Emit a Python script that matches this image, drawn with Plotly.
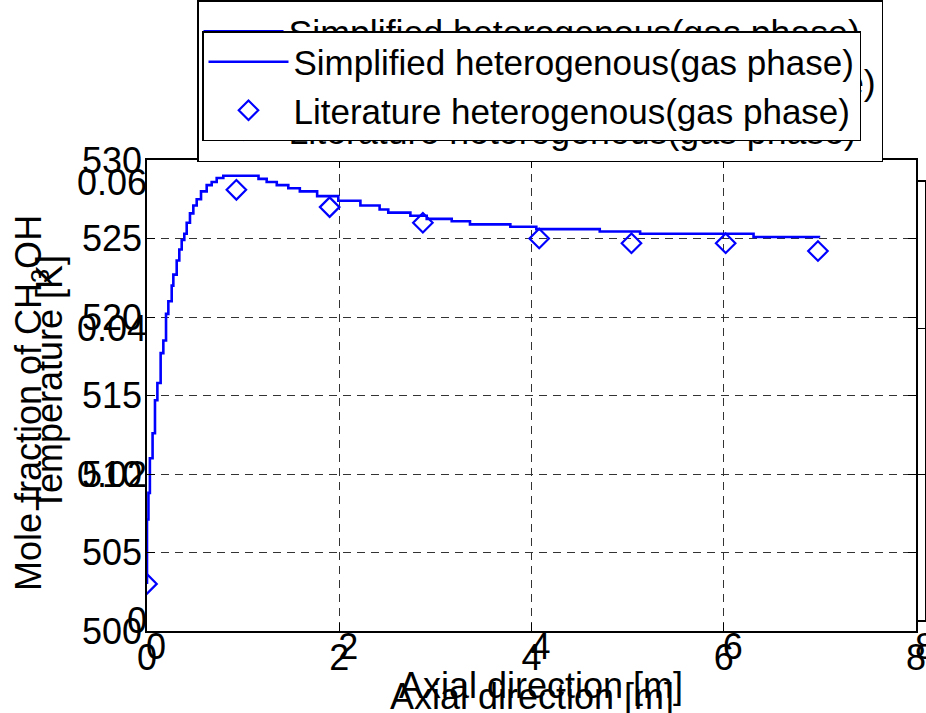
import plotly.graph_objects as go

# ---------------- data ----------------
axial_sim = [0, 0, 0.015, 0.03, 0.058, 0.083, 0.108, 0.142, 0.17, 0.198,
             0.222, 0.257, 0.274, 0.309, 0.336, 0.361, 0.388, 0.413, 0.447, 0.482,
             0.517, 0.562, 0.621, 0.673, 0.725, 0.794, 1.16, 1.245, 1.35, 1.47,
             1.59, 1.77, 1.99, 2.22, 2.42, 2.51, 2.74, 2.91, 3.17, 3.36,
             3.78, 4.05, 4.71, 5.13, 6.31, 6.99]
temp_sim = [503.0, 507.1, 508.8, 511.0, 512.6, 514.7, 515.8, 517.7, 518.5, 520.2,
            521.0, 522.0, 522.7, 523.6, 524.3, 524.9, 525.3, 526.0, 526.6, 527.1,
            527.5, 528.0, 528.4, 528.6, 528.85, 529.0, 528.8, 528.6, 528.4, 528.2,
            528.0, 527.7, 527.4, 527.1, 526.85, 526.65, 526.45, 526.25, 526.1, 525.9,
            525.75, 525.6, 525.45, 525.3, 525.1, 525.05]

axial_lit = [0, 0.93, 1.90, 2.87, 4.08, 5.04, 6.02, 6.98]
temp_lit = [503.0, 528.1, 527.0, 526.0, 525.0, 524.7, 524.7, 524.2]

x_ticks = [0, 2, 4, 6, 8]
temp_ticks = [500, 505, 510, 515, 520, 525, 530]
mole_ticks = [0, 0.02, 0.04, 0.06]
mole_tick_text = ["0", "0.02", "0.04", "0.06"]

front_names = ["Simplified heterogenous(gas phase)",
               "Literature heterogenous(gas phase)"]
back_names = ["Simplified heterogenous(gas phase)",
              "Simplified heterogenous(solid phase)",
              "Literature heterogenous(gas phase)"]

x_title = "Axial direction [m]"
temp_title = "Temperature [K]"
mole_title = "Mole fraction of CH<sub>3</sub>OH"

# ---------------- figure ----------------
W, H = 926, 713
FONT = "Liberation Sans, Arial, Helvetica, sans-serif"
BLUE = "#0000FF"


def px(v):
    return v / W


def py(v):
    return (H - v) / H


fig = go.Figure()

diamond = dict(symbol="diamond-open", size=15, color=BLUE, line=dict(width=2.2, color=BLUE))

# background axes (mole fraction) - only its legend entries, data hidden under front axes
fig.add_trace(go.Scatter(x=[None], y=[None], mode="lines", name=back_names[0],
                         line=dict(color=BLUE, width=2.5), xaxis="x", yaxis="y",
                         legend="legend"))
fig.add_trace(go.Scatter(x=[None], y=[None], mode="lines", name=back_names[1],
                         line=dict(color=BLUE, width=2.5, dash="dash"), xaxis="x", yaxis="y",
                         legend="legend"))
fig.add_trace(go.Scatter(x=[None], y=[None], mode="markers", name=back_names[2],
                         marker=diamond, xaxis="x", yaxis="y", legend="legend"))

# front axes (temperature)
fig.add_trace(go.Scatter(x=axial_sim, y=temp_sim, mode="lines", name=front_names[0],
                         line=dict(color=BLUE, width=2.6, shape="hv"),
                         xaxis="x2", yaxis="y2", legend="legend2"))
fig.add_trace(go.Scatter(x=axial_lit, y=temp_lit, mode="markers", name=front_names[1],
                         marker=diamond, xaxis="x2", yaxis="y2", legend="legend2"))

axis_common = dict(ticks="inside", ticklen=8, tickwidth=1.2, tickcolor="black",
                   showline=True, linecolor="black", linewidth=1.5, mirror="ticks",
                   zeroline=False, automargin=False, ticklabeloverflow="allow",
                   tickfont=dict(family=FONT, size=36, color="black"))

fig.update_layout(
    width=W, height=H, autosize=False,
    margin=dict(l=0, r=0, t=0, b=0, pad=0, autoexpand=False),
    paper_bgcolor="white", plot_bgcolor="white",
    font=dict(family=FONT, size=35, color="black"),
    xaxis=dict(domain=[px(156), px(925)], anchor="y", range=[0, 8], tickvals=x_ticks,
               showgrid=False, ticklabelstandoff=-6, **axis_common),
    yaxis=dict(domain=[py(620), py(182)], anchor="x", range=[0, 0.06], tickvals=mole_ticks,
               ticktext=mole_tick_text, showgrid=False, **axis_common),
    xaxis2=dict(domain=[px(147), px(916)], anchor="y2", range=[0, 8], tickvals=x_ticks,
                showgrid=True, gridcolor="#333333", gridwidth=1, griddash="8px,6px",
                ticklabelstandoff=-6, **axis_common),
    yaxis2=dict(domain=[py(631), py(160)], anchor="x2", range=[500, 530], tickvals=temp_ticks,
                showgrid=True, gridcolor="#333333", gridwidth=1, griddash="8px,6px",
                ticklabelstandoff=-4, **axis_common),
    legend=dict(x=px(197), y=py(0), xanchor="left", yanchor="top", bgcolor="white",
                bordercolor="black", borderwidth=1.5, itemwidth=80, tracegroupgap=0,
                font=dict(family=FONT, size=35.7, color="black")),
    legend2=dict(x=px(202), y=py(31), xanchor="left", yanchor="top", bgcolor="white",
                 bordercolor="black", borderwidth=1.5, itemwidth=80, tracegroupgap=0,
                 font=dict(family=FONT, size=35, color="black")),
    showlegend=True,
)

annots = [
    dict(text=x_title, x=px(541), y=py(685), textangle=0),
    dict(text=x_title, x=px(532), y=py(696), textangle=0),
    dict(text=mole_title, x=px(31), y=py(403), textangle=-90),
    dict(text=temp_title, x=px(50), y=py(383), textangle=-90),
]
for a in annots:
    fig.add_annotation(xref="paper", yref="paper", showarrow=False,
                       xanchor="center", yanchor="middle",
                       font=dict(family=FONT, size=36, color="black"), **a)

fig.write_html("out.html")
